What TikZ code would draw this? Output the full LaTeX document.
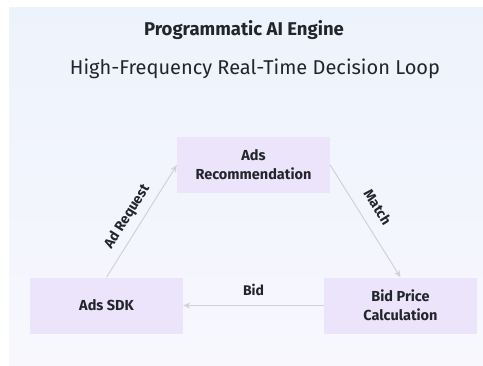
\documentclass[tikz,border=0pt]{standalone}
\usepackage{fontspec}
\setmainfont{Fira Sans}
\usetikzlibrary{arrows.meta}
\definecolor{paneltop}{HTML}{EDF3FC}
\definecolor{panelbot}{HTML}{F8F7FE}
\definecolor{boxfill}{HTML}{ECE4FA}
\definecolor{linkgray}{HTML}{D2D2D6}
\definecolor{inkdark}{HTML}{22252B}

\begin{document}
\begin{tikzpicture}[x=1pt, y=-1pt,
		stage/.style={fill=boxfill, text=inkdark, minimum width=153pt, minimum height=56pt,
			align=center, font=\bfseries\fontsize{14.5}{19}\selectfont, inner sep=0pt},
		link/.style={draw=linkgray, line width=1pt, -{Stealth[length=7pt,width=6pt]}},
		tag/.style={text=inkdark, font=\bfseries\fontsize{14}{16}\selectfont, inner sep=5pt}]
	\useasboundingbox (0,0) rectangle (483,365);
	\shade[top color=paneltop, bottom color=panelbot] (9,7) rectangle (483,365);
	\node[text=inkdark, font=\bfseries\fontsize{18.5}{22}\selectfont] (title) at (244,30) {Programmatic AI Engine};
	\node[text=inkdark, font=\fontsize{20}{24}\selectfont] (subtitle) at (255,69) {High-Frequency Real-Time Decision Loop};
	\node[stage] (rec) at (253.5,165) {Ads\\Recommendation};
	\node[stage] (sdk) at (106.5,305.5) {Ads SDK};
	\node[stage] (bid) at (400.5,305.5) {Bid Price\\Calculation};
	\path
		(sdk.north) edge[link] node[tag, auto, sloped, pos=0.47, inner sep=7pt] {Ad Request} (rec.west)
		(rec.east) edge[link] node[tag, auto, sloped, pos=0.46, inner sep=12pt] {Match} (bid.north)
		(bid.west) edge[link] node[tag, auto, swap, inner sep=9pt] {Bid} (sdk.east);
\end{tikzpicture}
\end{document}
